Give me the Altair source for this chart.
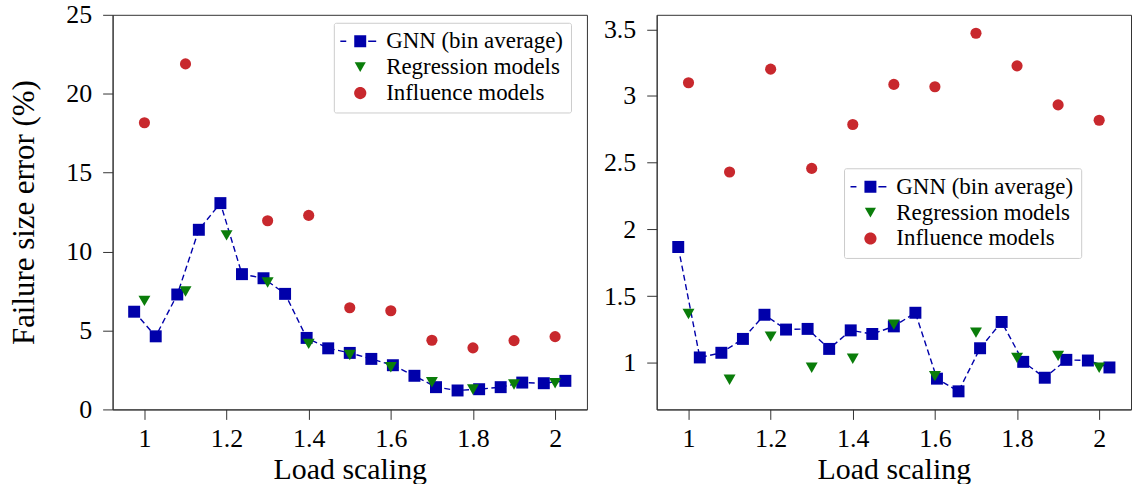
import altair as alt
import pandas as pd

# ---------------- data ----------------
GNN_X = [0.975, 1.0275, 1.08, 1.1325, 1.185, 1.2375, 1.29, 1.3425, 1.395, 1.4475, 1.5,
         1.5525, 1.605, 1.6575, 1.71, 1.7625, 1.815, 1.8675, 1.92, 1.9725, 2.025]
REG_X = [1.0, 1.1, 1.2, 1.3, 1.4, 1.5, 1.6, 1.7, 1.8, 1.9, 2.0]

LEFT_GNN = [6.19, 4.63, 7.28, 11.38, 13.07, 8.57, 8.31, 7.32, 4.53, 3.87, 3.58,
            3.20, 2.80, 2.13, 1.41, 1.20, 1.28, 1.41, 1.70, 1.66, 1.81]
LEFT_REG = [6.88, 7.47, 11.03, 8.04, 4.15, 3.45, 2.67, 1.72, 1.26, 1.58, 1.66]
LEFT_INF_X = [1.0, 1.1, 1.3, 1.4, 1.5, 1.6, 1.7, 1.8, 1.9, 2.0]
LEFT_INF = [18.16, 21.89, 11.95, 12.29, 6.44, 6.25, 4.38, 3.90, 4.36, 4.61]

RIGHT_GNN = [1.868, 1.040, 1.075, 1.179, 1.360, 1.249, 1.254, 1.104, 1.243, 1.216, 1.273,
             1.375, 0.881, 0.786, 1.109, 1.306, 1.007, 0.888, 1.022, 1.017, 0.965]
RIGHT_REG = [1.366, 0.873, 1.196, 0.963, 1.030, 1.286, 0.900, 1.226, 1.037, 1.052, 0.963]
RIGHT_INF_X = [1.0, 1.1, 1.2, 1.3, 1.4, 1.5, 1.6, 1.7, 1.8, 1.9, 2.0]
RIGHT_INF = [3.099, 2.430, 3.201, 2.457, 2.786, 3.087, 3.069, 3.470, 3.226, 2.933, 2.818]

X_TICKS = [1, 1.2, 1.4, 1.6, 1.8, 2]
LEFT_Y_TICKS = [0, 5, 10, 15, 20, 25]
RIGHT_Y_TICKS = [1, 1.5, 2, 2.5, 3, 3.5]

SERIES = ["GNN (bin average)", "Regression models", "Influence models"]

# ---------------- styling ----------------
BLUE = "#0000aa"
GREEN = "#0a7d0a"
RED = "#c8282d"
FRAME = "#333333"
FONT = "Liberation Serif"

X_DOM = [0.9225, 2.0775]
LEFT_Y_DOM = [0, 25]
RIGHT_Y_DOM = [0.6505, 3.6085]

# legend symbols (unit = 9 px because symbolSize 324 -> 18 px box)
GNN_PATH = ("M -0.667 -0.667 L 0.667 -0.667 L 0.667 0.667 L -0.667 0.667 Z "
            "M -2.22 -0.085 L -1.56 -0.085 L -1.56 0.085 L -2.22 0.085 Z "
            "M 0.89 -0.085 L 1.78 -0.085 L 1.78 0.085 L 0.89 0.085 Z")
TRI_PATH = "M -0.62 -0.54 L 0.62 -0.54 L 0 0.54 Z"
CIRC_PATH = "M -0.68 0 A 0.68 0.68 0 1 0 0.68 0 A 0.68 0.68 0 1 0 -0.68 0 Z"
PATHS = [GNN_PATH, TRI_PATH, CIRC_PATH]
COLORS = [BLUE, GREEN, RED]

W, H = 476, 396


def panel(gnn_y, reg_y, inf_x, inf_y, ydom, yticks, ytitle, lx, ly):
    gnn = pd.DataFrame({"x": GNN_X, "y": gnn_y})
    reg = pd.DataFrame({"x": REG_X, "y": reg_y})
    inf = pd.DataFrame({"x": inf_x, "y": inf_y})

    xenc = alt.X("x:Q", title="Load scaling",
                 scale=alt.Scale(domain=X_DOM, nice=False, zero=False),
                 axis=alt.Axis(values=X_TICKS, format=".1~f"))
    yenc = alt.Y("y:Q", title=ytitle,
                 scale=alt.Scale(domain=ydom, nice=False, zero=False),
                 axis=alt.Axis(values=yticks, format=".1~f"))

    line = alt.Chart(gnn).mark_line(color=BLUE, strokeDash=[6, 3.5], strokeWidth=1.4).encode(x=xenc, y=yenc)
    sq = alt.Chart(gnn).mark_point(shape="square", filled=True, size=144, color=BLUE,
                                   opacity=1).encode(x=xenc, y=yenc)
    tri = alt.Chart(reg).mark_point(shape="triangle-down", filled=True, size=144, color=GREEN,
                                    opacity=1).encode(x=xenc, y=yenc)
    cir = alt.Chart(inf).mark_circle(size=125, color=RED, opacity=1).encode(x=xenc, y=yenc)

    legend = alt.Legend(orient="none", legendX=lx, legendY=ly, title=None,
                        symbolSize=324, symbolOpacity=1, symbolStrokeWidth=0,
                        symbolOffset=8, labelOffset=14.5, labelLimit=400,
                        labelFont=FONT, labelFontSize=23, labelColor="black",
                        padding=7, rowPadding=2,
                        strokeColor="#cccccc", fillColor="white", cornerRadius=2)
    leg = alt.Chart(pd.DataFrame({"series": SERIES})).mark_point(filled=True, opacity=0).encode(
        x=alt.value(0), y=alt.value(0),
        color=alt.Color("series:N", scale=alt.Scale(domain=SERIES, range=COLORS), legend=legend),
        shape=alt.Shape("series:N", scale=alt.Scale(domain=SERIES, range=PATHS), legend=legend),
    )
    return alt.layer(line, sq, tri, cir, leg).properties(width=W, height=H)


left = panel(LEFT_GNN, LEFT_REG, LEFT_INF_X, LEFT_INF, LEFT_Y_DOM, LEFT_Y_TICKS,
             "Failure size error (%)", 222, 8)
right = panel(RIGHT_GNN, RIGHT_REG, RIGHT_INF_X, RIGHT_INF, RIGHT_Y_DOM, RIGHT_Y_TICKS,
              None, 188, 154)

chart = (
    alt.hconcat(left, right, spacing=70)
    .resolve_scale(color="independent", shape="independent")
    .resolve_legend(color="independent", shape="independent")
    .properties(bounds="flush", padding={"left": 8, "top": 0, "right": 0, "bottom": 0})
    .configure(font=FONT)
    .configure_view(stroke=FRAME, strokeWidth=1)
    .configure_axis(grid=False, domainColor=FRAME, tickColor=FRAME, tickSize=10, tickWidth=1,
                    labelFont=FONT, labelFontSize=26, labelColor="black", labelPadding=8,
                    titleFont=FONT, titleFontSize=30, titleFontWeight="normal", titleColor="black")
    .configure_axisY(titlePadding=25, labelPadding=11, titleFontSize=31)
    .configure_axisX(titlePadding=3, labelPadding=6)
)

chart.save("out.html", embed_options={"renderer": "svg", "actions": False})
